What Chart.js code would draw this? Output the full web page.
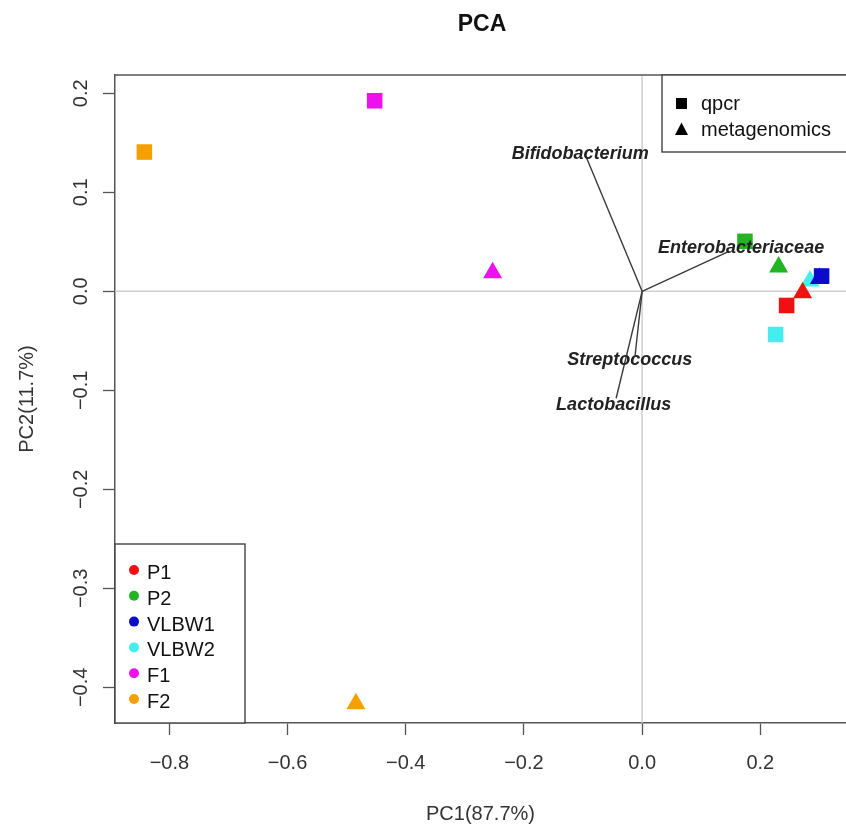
<!DOCTYPE html>
<html><head><meta charset="utf-8">
<style>html,body{margin:0;padding:0;background:#fff;overflow:hidden}canvas{display:block}</style>
<script src="https://cdn.jsdelivr.net/npm/chart.js@4/dist/chart.umd.min.js"></script>
</head><body>
<canvas id="c" width="846" height="830"></canvas>
<script>
// ---- data ----
const groups = ['P1','P2','VLBW1','VLBW2','F1','F2'];
const groupColors = ['#ee1111','#22b422','#0b0bcc','#44eeee','#ee11ee','#f5a000'];
const methods = ['qpcr','metagenomics'];
const qpcrX = [0.2445, 0.174, 0.3037, 0.2259, -0.4526, -0.8423];
const qpcrY = [-0.0143, 0.0505, 0.0155, -0.0436, 0.1925, 0.1407];
const metaX = [0.2716, 0.231, 0.300, 0.284, -0.253, -0.4843];
const metaY = [-0.0015, 0.0245, 0.013, 0.0104, 0.0187, -0.4165];
const taxa = ['Bifidobacterium','Enterobacteriaceae','Streptococcus','Lactobacillus'];
const loadX = [-0.0948, 0.146, -0.0118, -0.044];
const loadY = [0.136, 0.040, -0.0643, -0.108];
const taxaLabelX = [-0.1049, 0.1675, -0.0208, -0.0482];
const taxaLabelY = [0.1402, 0.0453, -0.0684, -0.1133];
const xTicks = [-0.8, -0.6, -0.4, -0.2, 0.0, 0.2];
const yTicks = [-0.4, -0.3, -0.2, -0.1, 0.0, 0.1, 0.2];
const xRange = [-0.892, 0.345];
const yRange = [-0.436, 0.2185];
const titleText = 'PCA';
const xTitle = 'PC1(87.7%)';
const yTitle = 'PC2(11.7%)';

const FONT = "'Liberation Sans', Arial, sans-serif";
Chart.defaults.font.family = FONT;
const fmt = v => Number(v).toFixed(1).replace('-', '\u2212');

const datasets = [];
taxa.forEach((t, i) => datasets.push({
  type: 'line', label: t,
  data: [{x: 0, y: 0}, {x: loadX[i], y: loadY[i]}],
  borderColor: '#3a3a3a', borderWidth: 1.4, pointRadius: 0, fill: false, order: 3
}));
groups.forEach((g, i) => datasets.push({
  label: g + ' ' + methods[1], data: [{x: metaX[i], y: metaY[i]}],
  pointStyle: 'triangle', pointRadius: 11, backgroundColor: groupColors[i],
  borderWidth: 0, order: 2
}));
groups.forEach((g, i) => datasets.push({
  label: g + ' ' + methods[0], data: [{x: qpcrX[i], y: qpcrY[i]}],
  pointStyle: 'rect', pointRadius: 11, backgroundColor: groupColors[i],
  borderWidth: 0, order: 1
}));

const decor = {
  id: 'decor',
  beforeDatasetsDraw(chart) {
    const {ctx, chartArea: a, scales: {x, y}} = chart;
    ctx.save();
    ctx.strokeStyle = '#cfcfcf'; ctx.lineWidth = 1.5;
    const x0 = x.getPixelForValue(0), y0 = y.getPixelForValue(0);
    ctx.beginPath();
    ctx.moveTo(x0, a.top); ctx.lineTo(x0, a.bottom);
    ctx.moveTo(a.left, y0); ctx.lineTo(a.right, y0);
    ctx.stroke();
    ctx.restore();
  },
  afterDatasetsDraw(chart) {
    const {ctx, scales: {x, y}} = chart;
    ctx.save();
    ctx.font = 'italic bold 18px ' + FONT;
    ctx.fillStyle = '#222';
    ctx.textAlign = 'center'; ctx.textBaseline = 'alphabetic';
    taxa.forEach((t, i) => {
      ctx.fillText(t, x.getPixelForValue(taxaLabelX[i]), y.getPixelForValue(taxaLabelY[i]) + 6.4);
    });
    ctx.restore();
  },
  afterDraw(chart) {
    const {ctx, chartArea: a, scales: {y}} = chart;
    ctx.save();
    // title
    ctx.fillStyle = '#111';
    ctx.font = 'bold 23px ' + FONT;
    ctx.textAlign = 'center'; ctx.textBaseline = 'middle';
    ctx.fillText(titleText, 482, 25);
    // top border
    ctx.strokeStyle = '#555'; ctx.lineWidth = 1.5;
    ctx.beginPath(); ctx.moveTo(a.left, a.top); ctx.lineTo(a.right, a.top); ctx.stroke();
    // y tick labels (rotated like R)
    ctx.fillStyle = '#333';
    ctx.font = '20px ' + FONT;
    yTicks.forEach(v => {
      ctx.save();
      ctx.translate(81, y.getPixelForValue(v));
      ctx.rotate(-Math.PI / 2);
      ctx.textAlign = 'center'; ctx.textBaseline = 'middle';
      ctx.fillText(fmt(v), 0, 0);
      ctx.restore();
    });
    // y title
    ctx.save();
    ctx.translate(27, (a.top + a.bottom) / 2);
    ctx.rotate(-Math.PI / 2);
    ctx.textAlign = 'center'; ctx.textBaseline = 'middle';
    ctx.fillText(yTitle, 0, 0);
    ctx.restore();

    // legend 1 (shapes)
    ctx.fillStyle = '#fff';
    ctx.fillRect(662, a.top, 200, 77);
    ctx.strokeStyle = '#444'; ctx.lineWidth = 1.4;
    ctx.strokeRect(662, a.top, 200, 77);
    ctx.fillStyle = '#000';
    ctx.fillRect(676, 98, 11, 11);
    ctx.beginPath();
    ctx.moveTo(681.5, 122.5); ctx.lineTo(688, 135); ctx.lineTo(675, 135); ctx.closePath(); ctx.fill();
    ctx.fillStyle = '#111';
    ctx.font = '20px ' + FONT;
    ctx.textAlign = 'left'; ctx.textBaseline = 'alphabetic';
    ctx.fillText(methods[0], 701, 110);
    ctx.fillText(methods[1], 701, 136);

    // legend 2 (groups)
    ctx.fillStyle = '#fff';
    ctx.fillRect(a.left, 544, 130, a.bottom - 544);
    ctx.strokeStyle = '#444';
    ctx.strokeRect(a.left, 544, 130, a.bottom - 544);
    groups.forEach((g, i) => {
      const cy = 570 + i * 25.8;
      ctx.fillStyle = groupColors[i];
      ctx.beginPath(); ctx.arc(134, cy, 5, 0, Math.PI * 2); ctx.fill();
      ctx.fillStyle = '#111';
      ctx.fillText(g, 147, cy + 9);
    });
    ctx.restore();
  }
};

new Chart(document.getElementById('c'), {
  type: 'scatter',
  data: {datasets},
  options: {
    responsive: false,
    animation: false,
    devicePixelRatio: 1,
    events: [],
    layout: {autoPadding: false, padding: {top: 75, left: 0, right: 0, bottom: 0}},
    plugins: {legend: {display: false}, tooltip: {enabled: false}, title: {display: false}},
    scales: {
      x: {
        type: 'linear', position: 'bottom', min: xRange[0], max: xRange[1],
        afterBuildTicks: s => { s.ticks = xTicks.map(v => ({value: v})); },
        afterFit: s => { s.height = 107; s.paddingLeft = 0; s.paddingRight = 0; },
        grid: {drawOnChartArea: false, drawTicks: true, tickLength: 12, tickColor: '#555', tickWidth: 1.3},
        border: {display: true, color: '#555', width: 1.5},
        ticks: {font: {size: 20}, color: '#333', padding: 16, maxRotation: 0, autoSkip: false, callback: v => fmt(v)},
        title: {display: true, text: xTitle, font: {size: 20}, color: '#333', padding: {top: 0, bottom: 4}}
      },
      y: {
        type: 'linear', position: 'left', min: yRange[0], max: yRange[1],
        afterBuildTicks: s => { s.ticks = yTicks.map(v => ({value: v})); },
        afterFit: s => { s.width = 115; s.paddingTop = 0; s.paddingBottom = 0; },
        grid: {drawOnChartArea: false, drawTicks: true, tickLength: 12, tickColor: '#555', tickWidth: 1.3},
        border: {display: true, color: '#555', width: 1.5},
        ticks: {display: false},
        title: {display: false}
      }
    }
  },
  plugins: [decor]
});
</script>
</body></html>
